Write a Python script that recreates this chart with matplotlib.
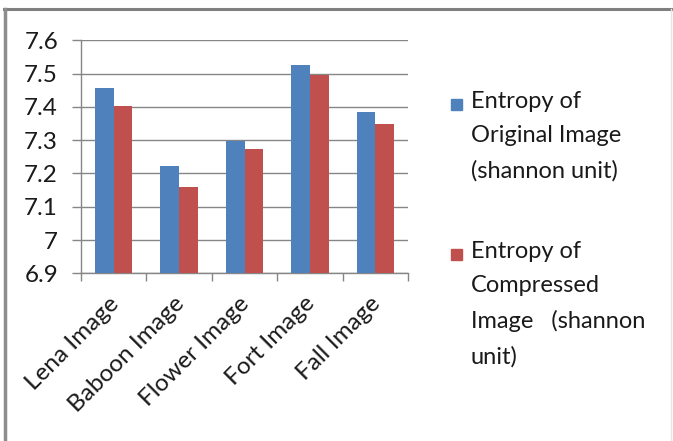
import matplotlib
matplotlib.use("Agg")
import matplotlib.pyplot as plt
import matplotlib.transforms as mtransforms
import numpy as np
from matplotlib.patches import Rectangle
from matplotlib.lines import Line2D

plt.rcParams['font.family'] = ['Lato', 'DejaVu Sans']

categories = ["Lena Image", "Baboon Image", "Flower Image", "Fort Image", "Fall Image"]
original = [7.456, 7.223, 7.298, 7.527, 7.385]
compressed = [7.402, 7.159, 7.274, 7.495, 7.350]
series_labels = ["Entropy of\nOriginal Image\n(shannon unit)",
                 "Entropy of\nCompressed\nImage   (shannon\nunit)"]
yticks = [6.9, 7.0, 7.1, 7.2, 7.3, 7.4, 7.5, 7.6]
ytick_labels = ["6.9", "7", "7.1", "7.2", "7.3", "7.4", "7.5", "7.6"]

blue = "#4F81BD"
red = "#C0504D"
grid_c = "#868686"
text_c = "#1a1a1a"

fig = plt.figure(figsize=(6.73, 4.41), dpi=100)
ax = fig.add_axes([0.1204, 0.3803, 0.4859, 0.5283])

x = np.arange(len(categories))
w = 1 / 3.5
ax.bar(x - w / 2, np.array(original) - 6.9, width=w, bottom=6.9, color=blue, zorder=3)
ax.bar(x + w / 2, np.array(compressed) - 6.9, width=w, bottom=6.9, color=red, zorder=3)

ax.set_xlim(-0.5, len(categories) - 0.5)
ax.set_ylim(6.9, 7.6)
ax.set_yticks(yticks)
ax.set_yticklabels(ytick_labels)
ax.yaxis.grid(True, color=grid_c, linewidth=1.0, zorder=0)
ax.set_axisbelow(True)

for s in ["top", "right"]:
    ax.spines[s].set_visible(False)
for s in ["left", "bottom"]:
    ax.spines[s].set_color(grid_c)
    ax.spines[s].set_linewidth(1.0)

ax.tick_params(axis="y", length=6.5, width=1.0, color=grid_c, pad=10,
               labelsize=17.5, labelcolor=text_c)
ax.set_xticks(np.arange(-0.5, len(categories)), minor=False)
ax.set_xticklabels([])
ax.tick_params(axis="x", which="major", length=6, width=1.0, color=grid_c, direction="out")
ax.set_xticks(x, minor=True)
ax.set_xticklabels(categories, minor=True, rotation=45, ha="right",
                   rotation_mode="anchor", fontsize=17.5, color=text_c)
ax.tick_params(axis="x", which="minor", length=0, pad=14)
shift = mtransforms.ScaledTranslation(-6 / 100, 0, fig.dpi_scale_trans)
for lbl in ax.get_xticklabels(minor=True):
    lbl.set_transform(lbl.get_transform() + shift)

# legend drawn in figure pixels
def fx(px):
    return px / 673

def fy(py):
    return 1 - py / 441

leg_entries = [(blue, series_labels[0], 104), (red, series_labels[1], 254)]
for color, label, ytop in leg_entries:
    fig.patches.append(Rectangle((fx(451), fy(ytop + 6)), fx(11), 11 / 441,
                                 transform=fig.transFigure, color=color))
    fig.text(fx(471), fy(ytop - 13), label, fontsize=17, color=text_c,
             va="top", ha="left", linespacing=1.78)

# outer frame
fig.add_artist(Line2D([fx(4), fx(672)], [fy(9), fy(9)], transform=fig.transFigure,
                      color="#7f7f7f", linewidth=2.2))
fig.add_artist(Line2D([fx(5), fx(5)], [fy(9), 0], transform=fig.transFigure,
                      color="#8c8c8c", linewidth=2.5))
fig.add_artist(Line2D([fx(671), fx(671)], [fy(9), 0], transform=fig.transFigure,
                      color="#e6e6e6", linewidth=1.0))

fig.savefig("out.png", dpi=100)
